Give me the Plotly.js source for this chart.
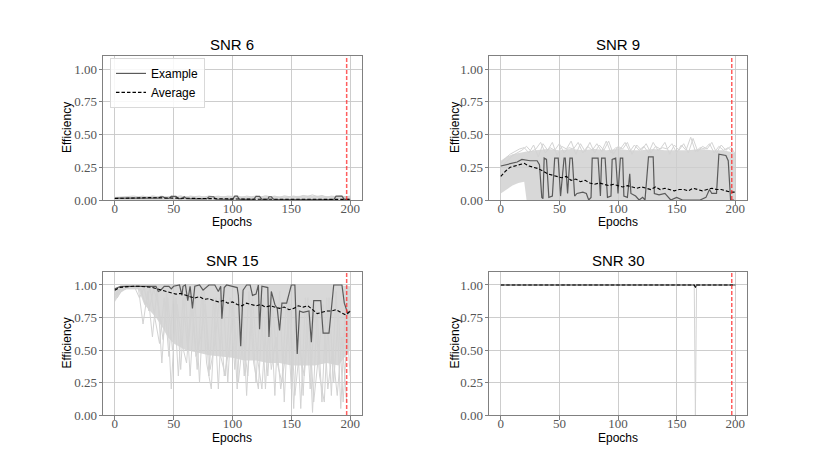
<!DOCTYPE html>
<html>
<head>
<meta charset="utf-8">
<script src="https://cdn.plot.ly/plotly-3.0.1.min.js"></script>
<style>
  html, body { margin: 0; padding: 0; background: #fff; }
  #plot { width: 830px; height: 467px; }
</style>
</head>
<body>
<div id="plot"></div>
<script>
// ---- data ----
const panelTitles = ['SNR 6', 'SNR 9', 'SNR 15', 'SNR 30'];
const xLabel = 'Epochs';
const yLabel = 'Efficiency';
const stopEpoch = 197;
const xTicks = [0, 50, 100, 150, 200];
const yTicks = [0, 0.25, 0.5, 0.75, 1.0];

// epoch grids
const every10 = Array.from({length: 21}, (_, i) => i * 10);
const every4 = Array.from({length: 51}, (_, i) => i * 4);
const every4b = Array.from({length: 50}, (_, i) => i * 4 + 2);
const every4c = Array.from({length: 50}, (_, i) => i * 4 + 1);

// SNR 6
const band6X = every10;
const band6Lo = [0,0,0,0,0,0,0,0,0,0,0,0,0,0,0,0,0,0,0,0,0];
const band6Hi = [0.02,0.025,0.03,0.03,0.028,0.03,0.03,0.028,0.03,0.03,
                 0.028,0.03,0.03,0.03,0.028,0.03,0.03,0.035,0.03,0.032,0.03];
const run6A = [0.02,0.022,0.025,0.028,0.03,0.025,0.03,0.02,0.032,0.025,
               0.03,0.02,0.03,0.025,0.032,0.02,0.03,0.026,0.03,0.02,
               0.032,0.025,0.03,0.022,0.03,0.027,0.032,0.02,0.03,0.025,
               0.03,0.022,0.033,0.025,0.03,0.02,0.032,0.026,0.03,0.022,
               0.035,0.028,0.04,0.025,0.035,0.022,0.03,0.026,0.03,0.024,0.03];
const ex6X = [0,10,20,30,37,39,41,43,46,48,52,54,57,59,61,70,78,80,84,86,
              100,102,104,106,118,120,123,125,130,131,133,135,150,170,186,188,193,195,200];
const ex6Y = [0.015,0.015,0.018,0.015,0.015,0.025,0.025,0.012,0.012,0.028,
              0.028,0.01,0.01,0.025,0.01,0.008,0.008,0.025,0.025,0.006,
              0.005,0.03,0.03,0.005,0.005,0.028,0.028,0.005,0.005,0.025,
              0.025,0.005,0.003,0.003,0.003,0.03,0.03,0.005,0.005];
const avg6 = [0.012,0.015,0.017,0.018,0.016,0.014,0.012,0.011,0.009,0.008,
              0.008,0.007,0.006,0.006,0.006,0.005,0.005,0.005,0.005,0.005,0.005];

// SNR 9
const band9X = [0,5,10,15,20,22,30,40,50,60,70,80,90,100,110,120,130,140,150,160,170,180,190,200];
const band9Lo = [0.05,0.08,0.11,0.13,0.14,0,0,0,0,0,0,0,0,0,0,0,0,0,0,0,0,0,0,0];
const band9Hi = [0.30,0.33,0.35,0.36,0.37,0.37,0.38,0.39,0.38,0.39,0.38,0.39,
                 0.38,0.39,0.38,0.38,0.39,0.38,0.38,0.38,0.39,0.38,0.38,0.36];
const run9A = [0.28,0.32,0.35,0.37,0.39,0.4,0.36,0.42,0.33,0.43,
               0.38,0.44,0.34,0.41,0.39,0.45,0.35,0.43,0.37,0.44,
               0.36,0.42,0.38,0.45,0.35,0.41,0.39,0.44,0.35,0.42,
               0.38,0.43,0.36,0.41,0.39,0.44,0.35,0.42,0.38,0.43,
               0.36,0.47,0.37,0.41,0.39,0.44,0.36,0.42,0.38,0.41,0.35];
const run9B = [0.27,0.3,0.34,0.36,0.38,0.41,0.37,0.39,0.44,0.36,
               0.4,0.38,0.43,0.36,0.4,0.39,0.44,0.36,0.41,0.38,
               0.43,0.37,0.45,0.36,0.4,0.39,0.44,0.37,0.42,0.38,
               0.41,0.36,0.44,0.38,0.4,0.39,0.43,0.36,0.42,0.38,
               0.48,0.37,0.4,0.39,0.43,0.36,0.41,0.38,0.4,0.36];
const ex9X = [0,4,8,14,18,25,31,33,35,36,37,39,41,44,46,49,51,54,55,57,
              59,61,63,65,70,73,75,77,78,83,85,86,89,91,94,95,98,100,102,104,
              105,108,110,111,115,118,121,123,126,130,131,135,140,145,150,155,160,165,170,175,
              178,180,184,186,192,194,196,199];
const ex9Y = [0.26,0.27,0.28,0.29,0.31,0.30,0.30,0.27,0.02,0.01,
              0.32,0.31,0.02,0.03,0.32,0.32,0.03,0.32,0.32,0.05,
              0.32,0.32,0.03,0.05,0.06,0.05,0.0,0.02,0.32,0.32,
              0.03,0.32,0.32,0.02,0.03,0.31,0.32,0.05,0.32,0.32,
              0.03,0.02,0.2,0.05,0.03,0.0,0.02,0.0,0.33,0.33,
              0.05,0.04,0.05,0.0,0.02,0.0,0.0,0.0,0.0,0.02,
              0.08,0.05,0.05,0.35,0.34,0.3,0.0,0.0];
const avg9 = [0.18,0.22,0.25,0.26,0.27,0.28,0.26,0.25,0.24,0.22,
              0.2,0.19,0.18,0.17,0.18,0.15,0.16,0.14,0.15,0.13,
              0.12,0.13,0.12,0.11,0.12,0.11,0.1,0.11,0.1,0.09,
              0.1,0.09,0.08,0.1,0.08,0.09,0.08,0.07,0.08,0.08,
              0.07,0.09,0.08,0.07,0.08,0.09,0.08,0.08,0.07,0.06,0.06];

// SNR 15
const band15X = [0,5,10,20,25,30,35,40,45,50,60,70,80,90,100,110,120,130,140,150,160,170,180,190,200];
const band15Lo = [0.87,0.94,0.97,0.97,0.85,0.8,0.75,0.68,0.6,0.55,
                  0.5,0.48,0.46,0.45,0.44,0.42,0.42,0.4,0.4,0.38,
                  0.38,0.38,0.4,0.38,0.5];
const band15Hi = [0.97,0.99,1,1,1,1,1,1,1,1,1,1,1,1,1,1,1,1,1,1,1,1,1,1,0.99];
const run15A = [0.92,0.97,0.98,0.98,0.98,0.98,0.7,0.95,0.6,0.98,
                0.4,0.95,0.2,0.9,0.35,0.95,0.3,0.9,0.25,0.98,
                0.3,0.9,0.2,0.95,0.25,0.9,0.2,0.95,0.15,0.85,
                0.25,0.95,0.2,0.9,0.15,0.95,0.1,0.9,0.05,0.85,
                0.15,0.9,0.02,0.8,0.1,0.9,0.15,0.95,0.05,0.85,0.3];
const run15B = [0.9,0.96,0.97,0.97,0.97,0.97,0.85,0.98,0.75,0.55,
                0.9,0.45,0.95,0.3,0.9,0.5,0.85,0.35,0.95,0.4,
                0.2,0.9,0.45,0.3,0.9,0.35,0.85,0.3,0.95,0.4,
                0.2,0.9,0.3,0.85,0.4,0.25,0.9,0.2,0.85,0.05,
                0.9,0.2,0.85,0.3,0.1,0.9,0.25,0.8,0.1,0.7];
const run15C = [0.91,0.97,0.98,0.98,0.98,0.9,0.98,0.8,0.97,0.85,
                0.58,0.9,0.5,0.85,0.55,0.4,0.9,0.45,0.6,0.85,
                0.35,0.55,0.9,0.3,0.5,0.85,0.25,0.6,0.3,0.9,
                0.45,0.2,0.8,0.35,0.6,0.2,0.45,0.85,0.15,0.5,
                0.3,0.75,0.1,0.45,0.85,0.2,0.5,0.15,0.6,0.1];
const ex15X = [0,5,10,20,30,35,37,39,42,46,48,50,55,57,58,60,62,64,66,68,
               72,75,80,85,88,90,91,93,95,100,104,105,107,109,112,115,117,120,122,123,
               125,130,131,133,136,138,140,142,146,150,153,155,157,160,165,167,169,172,175,177,
               182,186,193,195,198,200];
const ex15Y = [0.97,0.99,0.99,0.99,0.99,0.99,0.95,0.96,0.99,0.99,
               0.97,0.99,1.0,0.92,0.99,1.0,0.88,0.99,0.82,0.99,
               1.0,0.96,1.0,1.0,0.95,0.99,0.74,0.98,1.0,0.99,
               0.98,0.92,0.53,0.96,1.0,1.0,0.92,0.93,1.0,0.66,
               0.99,0.98,0.6,0.95,0.85,0.82,0.65,0.86,0.86,1.0,
               1.0,0.47,0.8,0.79,0.8,0.56,0.88,0.88,0.88,0.63,
               0.63,1.0,1.0,0.86,0.78,0.8];
const avg15 = [0.96,0.98,0.985,0.99,0.99,0.99,0.99,0.985,0.98,0.97,
               0.955,0.95,0.94,0.93,0.935,0.92,0.91,0.9,0.91,0.89,
               0.895,0.88,0.87,0.88,0.86,0.87,0.85,0.84,0.86,0.85,
               0.84,0.85,0.83,0.84,0.83,0.82,0.83,0.81,0.82,0.84,
               0.83,0.84,0.81,0.78,0.79,0.8,0.8,0.81,0.79,0.77,0.8];

// SNR 30
const epochs30 = [0,165,166,167,200];
const run30 = [1,1,0,1,1];
const ex30 = [1,1,0.98,1,1];
const avg30 = [1,1,0.985,1,1];

const panels = [
  { band: [band6X, band6Lo, band6Hi], runs: [[every4, run6A]], ex: [ex6X, ex6Y], avg: [every10, avg6] },
  { band: [band9X, band9Lo, band9Hi], runs: [[every4, run9A], [every4b, run9B]], ex: [ex9X, ex9Y], avg: [every4, avg9] },
  { band: [band15X, band15Lo, band15Hi], runs: [[every4, run15A], [every4b, run15B], [every4c, run15C]], ex: [ex15X, ex15Y], avg: [every4, avg15] },
  { band: null, runs: [[epochs30, run30]], ex: [epochs30, ex30], avg: [epochs30, avg30] }
];

// ---- layout geometry (paper fractions of the 830x467 frame) ----
const colDom = [[0.1241, 0.4361], [0.5892, 0.9]];
const rowDom = [[0.5717, 0.8801], [0.1113, 0.4176]];
const yLabelX = [67 / 830, 455 / 830];
const xLabelY = [1 - 222 / 467, 1 - 438 / 467];

const grayLine = '#d3d3d3';
const sans = 'Liberation Sans, Arial, sans-serif';
const serif = 'Liberation Serif, Times New Roman, serif';

const traces = [];
const layout = {
  width: 830, height: 467,
  margin: {l: 0, r: 0, t: 0, b: 0},
  paper_bgcolor: '#fff', plot_bgcolor: '#fff',
  showlegend: true,
  legend: {
    x: 0.1325, y: 0.876, xanchor: 'left', yanchor: 'top',
    bgcolor: 'rgba(255,255,255,0.85)', bordercolor: '#d9d9d9', borderwidth: 1,
    font: {family: sans, size: 12, color: '#000'}, tracegroupgap: 0
  },
  annotations: [], shapes: []
};

panels.forEach((p, i) => {
  const n = i === 0 ? '' : String(i + 1);
  const xa = 'x' + n, ya = 'y' + n;
  const col = i % 2, row = Math.floor(i / 2);
  const xd = colDom[col], yd = rowDom[row];

  if (p.band) {
    const [bx, lo, hi] = p.band;
    traces.push({
      x: bx.concat(bx.slice().reverse()), y: hi.concat(lo.slice().reverse()),
      xaxis: xa, yaxis: ya, mode: 'lines', fill: 'toself',
      fillcolor: 'rgba(206,206,206,0.8)', line: {width: 0, color: grayLine},
      showlegend: false, hoverinfo: 'skip'
    });
  }
  p.runs.forEach(([rx, ry]) => traces.push({
    x: rx, y: ry, xaxis: xa, yaxis: ya, mode: 'lines',
    line: {color: grayLine, width: 1}, showlegend: false, hoverinfo: 'skip'
  }));
  traces.push({
    x: p.ex[0], y: p.ex[1], xaxis: xa, yaxis: ya, mode: 'lines', name: 'Example',
    line: {color: '#5a5a5a', width: 1.2}, showlegend: i === 0
  });
  traces.push({
    x: p.avg[0], y: p.avg[1], xaxis: xa, yaxis: ya, mode: 'lines', name: 'Average',
    line: {color: '#000', width: 1.1, dash: '3.5px,2px'}, showlegend: i === 0
  });

  const axBase = {
    showline: true, mirror: true, linecolor: '#808080', linewidth: 1,
    ticks: 'outside', ticklen: 3.5, tickcolor: '#808080', tickwidth: 1,
    showgrid: true, gridcolor: '#c8c8c8', gridwidth: 0.9, zeroline: false,
    tickfont: {family: serif, size: 13, color: '#555'}
  };
  layout['xaxis' + n] = Object.assign({}, axBase, {
    domain: xd, anchor: ya, range: [-10, 210], tickvals: xTicks, ticklabelstandoff: -7
  });
  layout['yaxis' + n] = Object.assign({}, axBase, {
    domain: yd, anchor: xa, range: [0, 1.1], tickvals: yTicks, tickformat: '.2f',
    ticklabelstandoff: -1
  });

  const titleFont = {family: sans, size: 12, color: '#000'};
  layout.annotations.push({
    text: panelTitles[i], xref: 'paper', yref: 'paper',
    x: (xd[0] + xd[1]) / 2, y: yd[1], xanchor: 'center', yanchor: 'bottom',
    yshift: 1, showarrow: false, font: {family: sans, size: 15, color: '#000'}
  });
  layout.annotations.push({
    text: xLabel, xref: 'paper', yref: 'paper', x: (xd[0] + xd[1]) / 2, y: xLabelY[row],
    xanchor: 'center', yanchor: 'middle', showarrow: false, font: titleFont
  });
  layout.annotations.push({
    text: yLabel, xref: 'paper', yref: 'paper', x: yLabelX[col], y: (yd[0] + yd[1]) / 2,
    xanchor: 'center', yanchor: 'middle', textangle: -90, showarrow: false, font: titleFont
  });
  layout.shapes.push({
    type: 'line', xref: xa, yref: ya + ' domain', x0: stopEpoch, x1: stopEpoch, y0: 0, y1: 1,
    line: {color: 'rgba(255,40,40,0.75)', width: 1.5, dash: '4px,2px'}
  });
});

Plotly.newPlot('plot', traces, layout, {staticPlot: true});
</script>
</body>
</html>
